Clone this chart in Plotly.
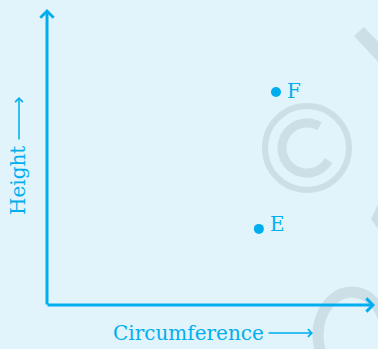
import numpy as np
import plotly.graph_objects as go

# data (arbitrary units 0-10)
points = ["E", "F"]
circumference = [6.44, 6.96]
height = [2.58, 7.22]

BLUE = "#00aeef"
BG = "#e1f3fb"
WM = "#cddfe6"
FONT = "DejaVu Serif"

W, H = 378, 349
ML, MR, MT, MB = 47, 2, 10, 44
PW, PH = W - ML - MR, H - MT - MB


def px(x):
    return (x - ML) / PW


def py(y):
    return (H - MB - y) / PH


fig = go.Figure()
fig.add_trace(go.Scatter(
    x=circumference, y=height, mode="markers",
    marker=dict(size=10, color=BLUE),
    cliponaxis=False, hoverinfo="skip",
))

# faint copyright watermark behind everything
shapes = []
cx, cy, r = 307, 148, 42
shapes.append(dict(type="circle", xref="paper", yref="paper", layer="below",
                   x0=px(cx - r), x1=px(cx + r), y0=py(cy + r), y1=py(cy - r),
                   line=dict(color=WM, width=6)))
t = np.radians(np.linspace(60, 330, 40))
rc = 25
pts = [(px(cx + rc * np.cos(a)), py(cy - rc * np.sin(a))) for a in t]
path = "M " + " L ".join(f"{a:.4f},{b:.4f}" for a, b in pts)
shapes.append(dict(type="path", xref="paper", yref="paper", layer="below",
                   path=path, line=dict(color=WM, width=9)))
# pieces of the diagonal watermark at the right edge
shapes.append(dict(type="circle", xref="paper", yref="paper", layer="below",
                   x0=px(318), x1=px(386), y0=py(378), y1=py(292),
                   line=dict(color=WM, width=11)))
shapes.append(dict(type="path", xref="paper", yref="paper", layer="below",
                   path=f"M {px(354):.4f},{py(36):.4f} L {px(364):.4f},{py(27):.4f} "
                        f"L {px(380):.4f},{py(44):.4f} L {px(380):.4f},{py(64):.4f} Z",
                   fillcolor=WM, line=dict(width=0)))
shapes.append(dict(type="path", xref="paper", yref="paper", layer="below",
                   path=f"M {px(380):.4f},{py(200):.4f} L {px(371):.4f},{py(219):.4f} "
                        f"L {px(380):.4f},{py(232):.4f} Z",
                   fillcolor=WM, line=dict(width=0)))

annotations = [
    # axes with arrowheads
    dict(x=px(47), y=py(9), xref="paper", yref="paper", ax=0, ay=297,
         text="", showarrow=True, arrowhead=4, arrowsize=0.85, arrowwidth=3,
         arrowcolor=BLUE, standoff=0),
    dict(x=px(375), y=py(305), xref="paper", yref="paper", ax=-329, ay=0,
         text="", showarrow=True, arrowhead=4, arrowsize=0.85, arrowwidth=3,
         arrowcolor=BLUE, standoff=0),
    # axis titles
    dict(x=px(188), y=py(333), xref="paper", yref="paper", text="Circumference",
         xanchor="center", yanchor="middle", showarrow=False,
         font=dict(family=FONT, size=20, color=BLUE)),
    dict(x=px(313), y=py(333), xref="paper", yref="paper", ax=-46, ay=0,
         text="", showarrow=True, arrowhead=4, arrowsize=1, arrowwidth=1.5,
         arrowcolor=BLUE, standoff=0),
    dict(x=px(18), y=py(181), xref="paper", yref="paper", text="Height",
         xanchor="center", yanchor="middle", textangle=-90, showarrow=False,
         font=dict(family=FONT, size=20, color=BLUE)),
    dict(x=px(19), y=py(97), xref="paper", yref="paper", ax=0, ay=44,
         text="", showarrow=True, arrowhead=4, arrowsize=1, arrowwidth=1.5,
         arrowcolor=BLUE, standoff=0),
]
# point labels
for name, xv, yv, ys in zip(points, circumference, height, [5, 1]):
    annotations.append(dict(x=xv, y=yv, xref="x", yref="y", text=name,
                            showarrow=False, xanchor="left", yanchor="middle",
                            xshift=9, yshift=ys,
                            font=dict(family=FONT, size=20, color=BLUE)))

axis = dict(range=[0, 10], showgrid=False, zeroline=False, showticklabels=False,
            showline=False, ticks="", fixedrange=True)
fig.update_layout(
    width=W, height=H, margin=dict(l=ML, r=MR, t=MT, b=MB),
    paper_bgcolor=BG, plot_bgcolor=BG, showlegend=False,
    xaxis=axis, yaxis=axis, shapes=shapes, annotations=annotations,
)

fig.write_html("out.html", config={"displayModeBar": False},
               post_script="document.body.style.margin='0';"
                           "document.body.style.background='%s';" % BG)
